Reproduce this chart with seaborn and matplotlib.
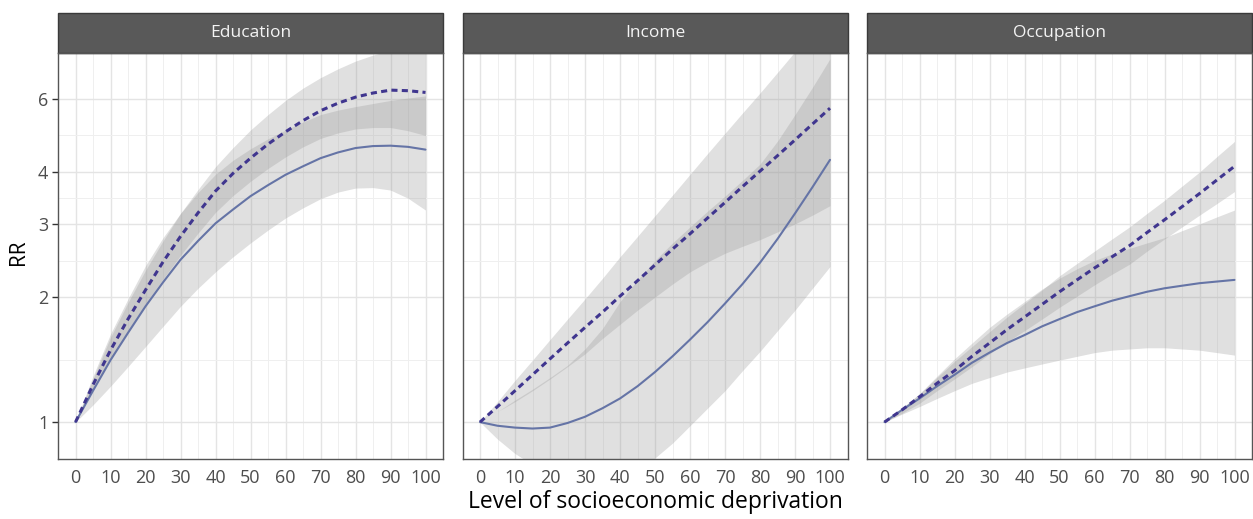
"""
Relative risk (RR) by level of socioeconomic deprivation
Three domains: Education, Income, Occupation - two fitted curves each with CI ribbons
"""

import numpy as np
import pandas as pd
import matplotlib
matplotlib.use("Agg")
import matplotlib.pyplot as plt
from matplotlib.patches import Rectangle
from matplotlib.ticker import FixedLocator, NullFormatter
import seaborn as sns

# ─── Data (every 5 units) ─────────────────────────────────────────────────────
deprivation = [0, 5, 10, 15, 20, 25, 30, 35, 40, 45, 50,
               55, 60, 65, 70, 75, 80, 85, 90, 95, 100]
domains = ["Education", "Income", "Occupation"]
rr_breaks = [1, 2, 3, 4, 6]
x_breaks = [0, 10, 20, 30, 40, 50, 60, 70, 80, 90, 100]

# Education
edu_solid     = [1.00, 1.19, 1.41, 1.64, 1.90, 2.17, 2.46, 2.73, 3.01, 3.25, 3.50,
                 3.72, 3.94, 4.13, 4.32, 4.46, 4.57, 4.62, 4.63, 4.60, 4.53]
edu_solid_lo  = [1.00, 1.10, 1.22, 1.36, 1.52, 1.70, 1.90, 2.10, 2.30, 2.50, 2.70,
                 2.90, 3.10, 3.28, 3.45, 3.58, 3.66, 3.67, 3.62, 3.46, 3.24]
edu_solid_hi  = [1.00, 1.29, 1.63, 1.98, 2.38, 2.78, 3.18, 3.57, 3.95, 4.27, 4.55,
                 4.81, 5.05, 5.28, 5.50, 5.64, 5.75, 5.85, 5.95, 6.03, 6.10]
edu_dashed    = [1.00, 1.23, 1.49, 1.77, 2.08, 2.43, 2.80, 3.19, 3.60, 3.97, 4.32,
                 4.67, 5.00, 5.32, 5.62, 5.86, 6.06, 6.20, 6.30, 6.28, 6.22]
edu_dashed_lo = [1.00, 1.20, 1.42, 1.66, 1.93, 2.21, 2.52, 2.85, 3.20, 3.51, 3.80,
                 4.08, 4.35, 4.60, 4.82, 4.97, 5.08, 5.12, 5.12, 5.03, 4.90]
edu_dashed_hi = [1.00, 1.27, 1.60, 1.94, 2.32, 2.73, 3.18, 3.63, 4.12, 4.58, 5.05,
                 5.50, 5.95, 6.37, 6.75, 7.09, 7.40, 7.65, 7.85, 7.96, 8.05]

# Income
inc_solid     = [1.00, 0.98, 0.97, 0.965, 0.97, 0.995, 1.03, 1.08, 1.14, 1.22, 1.32,
                 1.44, 1.58, 1.74, 1.93, 2.15, 2.42, 2.76, 3.18, 3.68, 4.28]
inc_solid_lo  = [1.00, 0.91, 0.84, 0.79, 0.74, 0.72, 0.70, 0.70, 0.73, 0.77, 0.82,
                 0.89, 0.98, 1.08, 1.19, 1.33, 1.48, 1.66, 1.86, 2.10, 2.37]
inc_solid_hi  = [1.00, 1.06, 1.13, 1.20, 1.28, 1.37, 1.50, 1.68, 1.95, 2.20, 2.45,
                 2.70, 2.95, 3.22, 3.50, 3.82, 4.18, 4.75, 5.50, 6.40, 7.50]
inc_dashed    = [1.00, 1.09, 1.19, 1.30, 1.42, 1.55, 1.69, 1.84, 2.01, 2.19, 2.39,
                 2.61, 2.84, 3.10, 3.38, 3.69, 4.02, 4.38, 4.78, 5.22, 5.70]
inc_dashed_lo = [1.00, 1.06, 1.12, 1.19, 1.27, 1.36, 1.46, 1.59, 1.72, 1.86, 2.00,
                 2.15, 2.30, 2.43, 2.55, 2.65, 2.75, 2.87, 3.00, 3.15, 3.32]
inc_dashed_hi = [1.00, 1.12, 1.26, 1.41, 1.58, 1.77, 1.98, 2.22, 2.50, 2.80, 3.14,
                 3.52, 3.95, 4.43, 4.96, 5.55, 6.20, 6.95, 7.80, 8.77, 9.85]

# Occupation
occ_solid     = [1.00, 1.07, 1.14, 1.22, 1.30, 1.39, 1.47, 1.55, 1.62, 1.70, 1.77,
                 1.84, 1.90, 1.96, 2.01, 2.06, 2.10, 2.13, 2.16, 2.18, 2.20]
occ_solid_lo  = [1.00, 1.045, 1.09, 1.14, 1.19, 1.24, 1.28, 1.32, 1.35, 1.38, 1.41,
                 1.44, 1.47, 1.49, 1.50, 1.51, 1.51, 1.50, 1.49, 1.47, 1.45]
occ_solid_hi  = [1.00, 1.08, 1.17, 1.29, 1.42, 1.55, 1.69, 1.82, 1.95, 2.09, 2.22,
                 2.34, 2.45, 2.54, 2.62, 2.70, 2.78, 2.89, 3.00, 3.12, 3.24]
occ_dashed    = [1.00, 1.07, 1.15, 1.24, 1.33, 1.44, 1.55, 1.67, 1.79, 1.92, 2.06,
                 2.20, 2.35, 2.50, 2.66, 2.86, 3.07, 3.30, 3.55, 3.83, 4.13]
occ_dashed_lo = [1.00, 1.05, 1.11, 1.19, 1.27, 1.36, 1.46, 1.56, 1.66, 1.77, 1.89,
                 2.01, 2.14, 2.27, 2.40, 2.58, 2.76, 2.95, 3.15, 3.36, 3.59]
occ_dashed_hi = [1.00, 1.08, 1.17, 1.28, 1.40, 1.52, 1.65, 1.79, 1.93, 2.08, 2.25,
                 2.41, 2.58, 2.76, 2.95, 3.18, 3.42, 3.70, 4.00, 4.36, 4.74]

series = {
    ("Education", "solid"):   (edu_solid, edu_solid_lo, edu_solid_hi),
    ("Education", "dashed"):  (edu_dashed, edu_dashed_lo, edu_dashed_hi),
    ("Income", "solid"):      (inc_solid, inc_solid_lo, inc_solid_hi),
    ("Income", "dashed"):     (inc_dashed, inc_dashed_lo, inc_dashed_hi),
    ("Occupation", "solid"):  (occ_solid, occ_solid_lo, occ_solid_hi),
    ("Occupation", "dashed"): (occ_dashed, occ_dashed_lo, occ_dashed_hi),
}

rows = []
for (dom, model), (est, lo, hi) in series.items():
    for x, e, l, h in zip(deprivation, est, lo, hi):
        rows.append({"domain": dom, "model": model, "x": x, "rr": e, "lo": l, "hi": h})
df = pd.DataFrame(rows)

# ─── Styling ──────────────────────────────────────────────────────────────────
sns.set_theme(style="white")
plt.rcParams['font.family'] = ['Open Sans', 'DejaVu Sans']

PALETTE = {"solid": "#6574a6", "dashed": "#40368f"}
DASHES = {"solid": "", "dashed": (2.0, 1.4)}
SIZES = {"solid": 1.5, "dashed": 2.2}
TEXT_GREY = "#4d4d4d"

W, H = 1253, 519
fig, axes = plt.subplots(1, 3, figsize=(W / 100, H / 100), dpi=100, sharey=True)
fig.subplots_adjust(left=58 / W, right=1252 / W, bottom=1 - 459 / H, top=1 - 53 / H,
                    wspace=19.5 / 385)

minor_y = [np.sqrt(a * b) for a, b in zip(rr_breaks[:-1], rr_breaks[1:])]
minor_x = [b + 5 for b in x_breaks[:-1]]
panel_h = 459 - 53

for ax, dom in zip(axes, domains):
    sub = df[df["domain"] == dom]

    # confidence ribbons
    for model in ["solid", "dashed"]:
        s = sub[sub["model"] == model]
        ax.fill_between(s["x"], s["lo"], s["hi"], color="#999999", alpha=0.3,
                        linewidth=0, zorder=1)

    sns.lineplot(data=sub, x="x", y="rr", hue="model", style="model", size="model",
                 palette=PALETTE, dashes=DASHES, sizes=SIZES, errorbar=None,
                 legend=False, ax=ax, zorder=3)

    ax.set_yscale("log")
    ax.set_xlim(-5, 105)
    ax.set_ylim(0.815, 7.74)
    ax.set_xticks(x_breaks)
    ax.set_xticklabels([str(b) for b in x_breaks])
    ax.xaxis.set_minor_locator(FixedLocator(minor_x))
    ax.set_yticks(rr_breaks)
    ax.set_yticklabels([str(b) for b in rr_breaks])
    ax.yaxis.set_minor_locator(FixedLocator(minor_y))
    ax.yaxis.set_minor_formatter(NullFormatter())

    ax.set_axisbelow(True)
    ax.grid(which="major", color="#e4e4e4", linewidth=1.0)
    ax.grid(which="minor", color="#efefef", linewidth=0.7)
    for sp in ax.spines.values():
        sp.set_color("#555555")
        sp.set_linewidth(1.0)

    ax.tick_params(axis="both", which="major", length=4, width=1, color="#333333",
                   labelcolor=TEXT_GREY, labelsize=13, pad=3)
    ax.tick_params(which="minor", length=0)
    ax.set_xlabel("")
    ax.set_ylabel("")

    # facet strip
    ax.add_patch(Rectangle((0, 1), 1, 40 / panel_h, transform=ax.transAxes,
                           clip_on=False, facecolor="#595959", edgecolor="#3a3a3a",
                           linewidth=1))
    ax.text(0.5, 1 + 20 / panel_h, dom, transform=ax.transAxes, ha="center",
            va="center", color="#f4f4f4", fontsize=12.5)

for ax in axes[1:]:
    ax.tick_params(axis="y", which="both", left=False, labelleft=False)
axes[0].tick_params(axis="y", left=True)

fig.text(655 / W, 1 - 502 / H, "Level of socioeconomic deprivation", ha="center",
         va="center", fontsize=16.5, color="black")
fig.text(18 / W, 1 - 252 / H, "RR", rotation=90, ha="center", va="center",
         fontsize=15, color="black")

fig.savefig("out.png", dpi=100)
plt.close()
print("saved out.png")
